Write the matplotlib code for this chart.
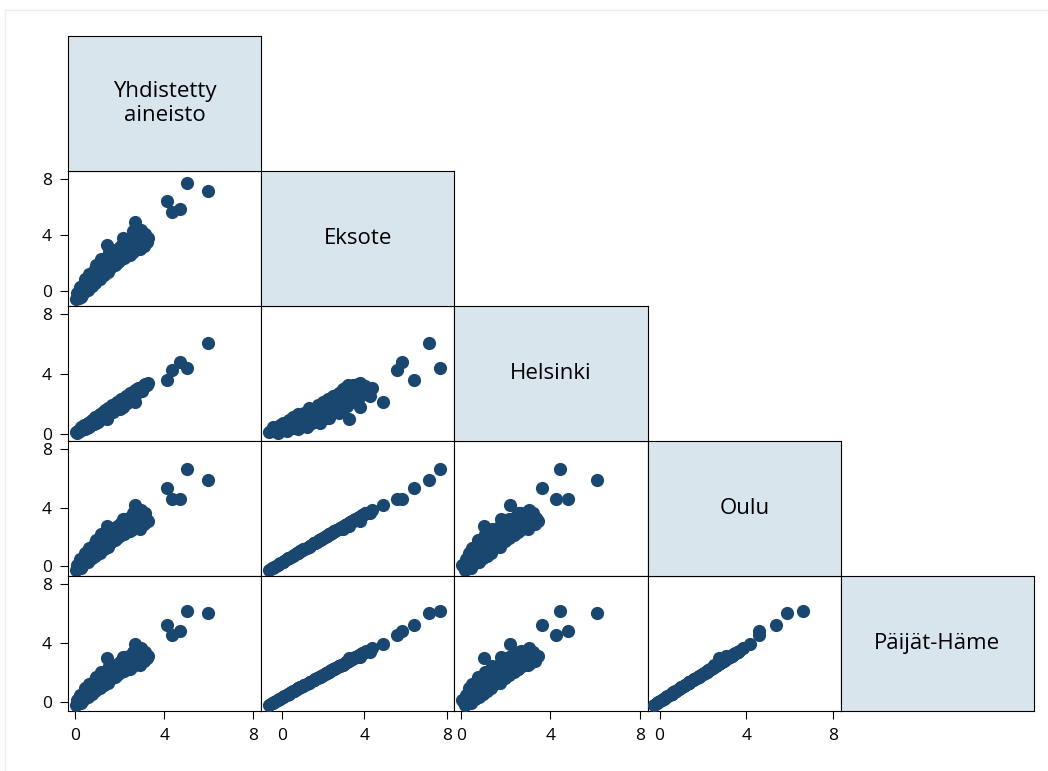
import matplotlib
matplotlib.use('Agg')
import matplotlib.pyplot as plt
from matplotlib.lines import Line2D

plt.rcParams['font.family'] = ['Open Sans', 'DejaVu Sans']

labels = ['Yhdistetty\naineisto', 'Eksote', 'Helsinki', 'Oulu', 'Päijät-Häme']

# one entry per observation: yhdistetty, eksote, helsinki, oulu, paijat-hame
yhd = [0.07, 0.12, 0.18, 0.22, 0.30, 0.35, 0.42, 0.48, 0.55, 0.62,
       0.68, 0.75, 0.80, 0.88, 0.92, 0.98, 1.05, 1.10, 1.15, 1.22,
       1.30, 1.35, 1.40, 1.45, 1.52, 1.58, 1.65, 1.70, 1.78, 1.85,
       1.92, 1.98, 2.05, 2.17, 2.12, 2.22, 2.30, 2.38, 2.45, 2.52,
       2.60, 2.62, 2.71, 2.78, 2.85, 2.92, 2.98, 3.05, 3.12, 3.20,
       3.29, 5.04, 5.98, 4.11, 4.34, 4.70,
       0.10, 0.25, 0.28, 0.40, 0.45, 0.52, 0.58, 0.65, 0.72, 0.78,
       0.85, 0.90, 0.95, 1.00, 1.08, 1.12, 1.18, 1.25, 1.28, 1.33,
       1.42, 1.48, 1.55, 1.62, 1.68, 1.75, 1.82, 1.88, 1.95, 2.02,
       2.08, 2.15, 2.25, 2.28, 2.35, 2.42, 2.48, 2.55, 2.65, 2.68,
       2.75, 2.82, 2.90, 3.00, 3.08, 3.15, 3.25,
       0.60, 1.02, 1.38, 1.72, 2.00, 2.32]
eksote = [-0.62, -0.40, -0.50, -0.15, -0.30, 0.10, 0.45, 0.05, 0.35, 0.75,
          0.30, 0.60, 1.10, 0.75, 1.55, 1.05, 0.90, 1.80, 2.30, 1.35,
          1.10, 1.90, 1.55, 3.27, 2.40, 1.60, 2.10, 2.65, 1.85, 2.35,
          3.00, 2.15, 2.60, 3.78, 3.30, 2.35, 2.90, 3.40, 2.55, 3.10,
          4.27, 2.75, 4.90, 3.50, 3.95, 2.97, 4.35, 3.40, 4.05, 3.60,
          3.80, 7.69, 7.12, 6.40, 5.60, 5.85,
          -0.20, 0.25, -0.45, -0.10, 0.80, 0.60, 0.05, 1.20, 0.95, 0.35,
          1.35, 0.55, 1.85, 1.30, 1.60, 0.80, 1.95, 2.10, 1.70, 1.35,
          2.00, 1.30, 2.75, 2.20, 1.75, 2.45, 2.90, 2.00, 2.55, 3.15,
          2.25, 2.80, 3.55, 2.50, 3.10, 3.70, 2.85, 3.45, 3.85, 3.20,
          4.10, 3.05, 3.75, 3.90, 3.20, 3.70, 3.45,
          0.90, 1.55, 2.20, 2.30, 2.75, 3.25]
helsinki = [0.17, 0.22, 0.26, 0.30, 0.38, 0.45, 0.50, 0.58, 0.66, 0.70,
            0.80, 0.85, 0.88, 1.00, 0.98, 1.10, 1.18, 1.12, 1.05, 1.33,
            1.42, 1.40, 1.52, 1.04, 1.60, 1.70, 1.75, 1.78, 1.92, 1.95,
            1.98, 2.10, 2.15, 1.79, 2.20, 2.32, 2.40, 2.45, 2.55, 2.60,
            2.53, 2.72, 2.17, 2.85, 2.90, 2.98, 3.05, 3.15, 3.20, 3.30,
            3.44, 4.42, 6.10, 3.64, 4.26, 4.80,
            0.05, 0.20, 0.45, 0.60, 0.35, 0.40, 0.78, 0.50, 0.60, 0.98,
            0.70, 1.15, 0.75, 0.90, 0.95, 1.35, 1.00, 1.15, 1.50, 1.62,
            1.30, 1.75, 1.40, 1.55, 1.95, 1.60, 1.70, 2.15, 1.85, 1.90,
            2.35, 2.05, 2.15, 2.55, 2.25, 2.35, 2.75, 2.45, 2.60, 2.95,
            2.70, 3.10, 3.00, 2.90, 3.30, 3.35, 3.25,
            0.45, 0.80, 1.10, 1.45, 1.70, 2.05]
oulu = [-0.24, -0.06, -0.14, 0.15, 0.02, 0.35, 0.64, 0.31, 0.56, 0.89,
        0.52, 0.77, 1.18, 0.89, 1.55, 1.14, 1.01, 1.76, 2.17, 1.38,
        1.18, 1.84, 1.55, 2.75, 2.25, 1.59, 2.00, 2.46, 1.80, 2.21,
        2.75, 2.04, 2.42, 3.20, 2.99, 2.21, 2.66, 3.08, 2.37, 2.83,
        3.61, 2.54, 4.16, 3.16, 3.53, 2.51, 3.86, 3.07, 3.61, 3.24,
        3.08, 6.62, 5.87, 5.35, 4.57, 4.59,
        0.10, 0.48, -0.10, 0.19, 0.93, 0.77, 0.31, 1.26, 1.05, 0.56,
        1.38, 0.72, 1.80, 1.34, 1.59, 0.93, 1.88, 2.00, 1.67, 1.38,
        1.92, 1.34, 2.54, 2.09, 1.71, 2.29, 2.66, 1.92, 2.37, 2.87,
        2.13, 2.58, 3.20, 2.33, 2.83, 3.32, 2.62, 3.12, 3.45, 2.91,
        3.65, 2.79, 3.36, 3.49, 2.91, 3.32, 3.12,
        1.01, 1.55, 2.09, 2.17, 2.54, 2.95]
paijat = [-0.20, -0.03, -0.10, 0.17, 0.05, 0.36, 0.63, 0.32, 0.55, 0.86,
          0.51, 0.74, 1.13, 0.86, 1.47, 1.09, 0.97, 1.67, 2.05, 1.32,
          1.13, 1.74, 1.47, 2.95, 2.13, 1.51, 1.90, 2.32, 1.70, 2.09,
          2.59, 1.94, 2.28, 3.06, 2.82, 2.09, 2.51, 2.90, 2.24, 2.67,
          3.40, 2.40, 3.92, 2.98, 3.32, 2.50, 3.63, 2.90, 3.40, 3.05,
          3.11, 6.17, 6.06, 5.22, 4.54, 4.81,
          0.13, 0.47, -0.07, 0.20, 0.90, 0.74, 0.32, 1.20, 1.01, 0.55,
          1.32, 0.70, 1.70, 1.28, 1.51, 0.90, 1.78, 1.90, 1.59, 1.32,
          1.82, 1.28, 2.40, 1.97, 1.63, 2.17, 2.51, 1.82, 2.24, 2.71,
          2.01, 2.44, 3.01, 2.21, 2.67, 3.13, 2.47, 2.94, 3.24, 2.74,
          3.44, 2.63, 3.17, 3.28, 2.74, 3.13, 2.94,
          0.97, 1.47, 1.97, 2.05, 2.40, 2.78]

data = [yhd, eksote, helsinki, oulu, paijat]

# axis ranges as drawn in the reference (x per column, y per row)
xlims = [(-0.31, 8.35), (-1.0, 8.37), (-0.3, 8.35), (-0.55, 8.35), (-0.3, 8.35)]
ylims = [(-0.9, 8.5), (-1.10, 8.57), (-0.45, 8.53), (-0.68, 8.57), (-0.63, 8.54)]
ticks = [0, 4, 8]

navy = '#1a476f'
boxcol = '#d9e5ec'

W, H = 1048, 771
fig = plt.figure(figsize=(W / 100, H / 100), dpi=100)

x0, y0 = 68, 36
pw = (1034 - 68) / 5
ph = 135


def cell(col, row):
    left = (x0 + col * pw) / W
    bottom = 1 - (y0 + (row + 1) * ph) / H
    return [left, bottom, pw / W, ph / H]


def frame(ax):
    for s in ax.spines.values():
        s.set_linewidth(0.8)
        s.set_color('black')
    ax.tick_params(length=5.5, width=0.8, labelsize=12.5, colors='black')
    ax.tick_params(axis='x', pad=7)
    ax.tick_params(axis='y', pad=6)


for r in range(1, 5):
    for c in range(r):
        ax = fig.add_axes(cell(c, r))
        ax.scatter(data[c], data[r], s=90, color=navy, linewidths=0, zorder=3)
        ax.set_xlim(xlims[c])
        ax.set_ylim(ylims[r])
        frame(ax)
        if c == 0:
            ax.set_yticks(ticks)
        else:
            ax.set_yticks([])
        if r == 4:
            ax.set_xticks(ticks)
        else:
            ax.set_xticks([])

for k in range(5):
    ax = fig.add_axes(cell(k, k))
    ax.set_facecolor(boxcol)
    ax.set_xticks([])
    ax.set_yticks([])
    frame(ax)
    ax.text(0.5, 0.5, labels[k], ha='center', va='center', fontsize=16,
            linespacing=1.15, transform=ax.transAxes)

# faint outline of the graph region
fig.add_artist(Line2D([5 / W, 5 / W], [0, 1 - 10 / H], color='#eeeeee', lw=1))
fig.add_artist(Line2D([5 / W, 1], [1 - 10 / H, 1 - 10 / H], color='#eeeeee', lw=1))

fig.savefig('out.png', dpi=100)
